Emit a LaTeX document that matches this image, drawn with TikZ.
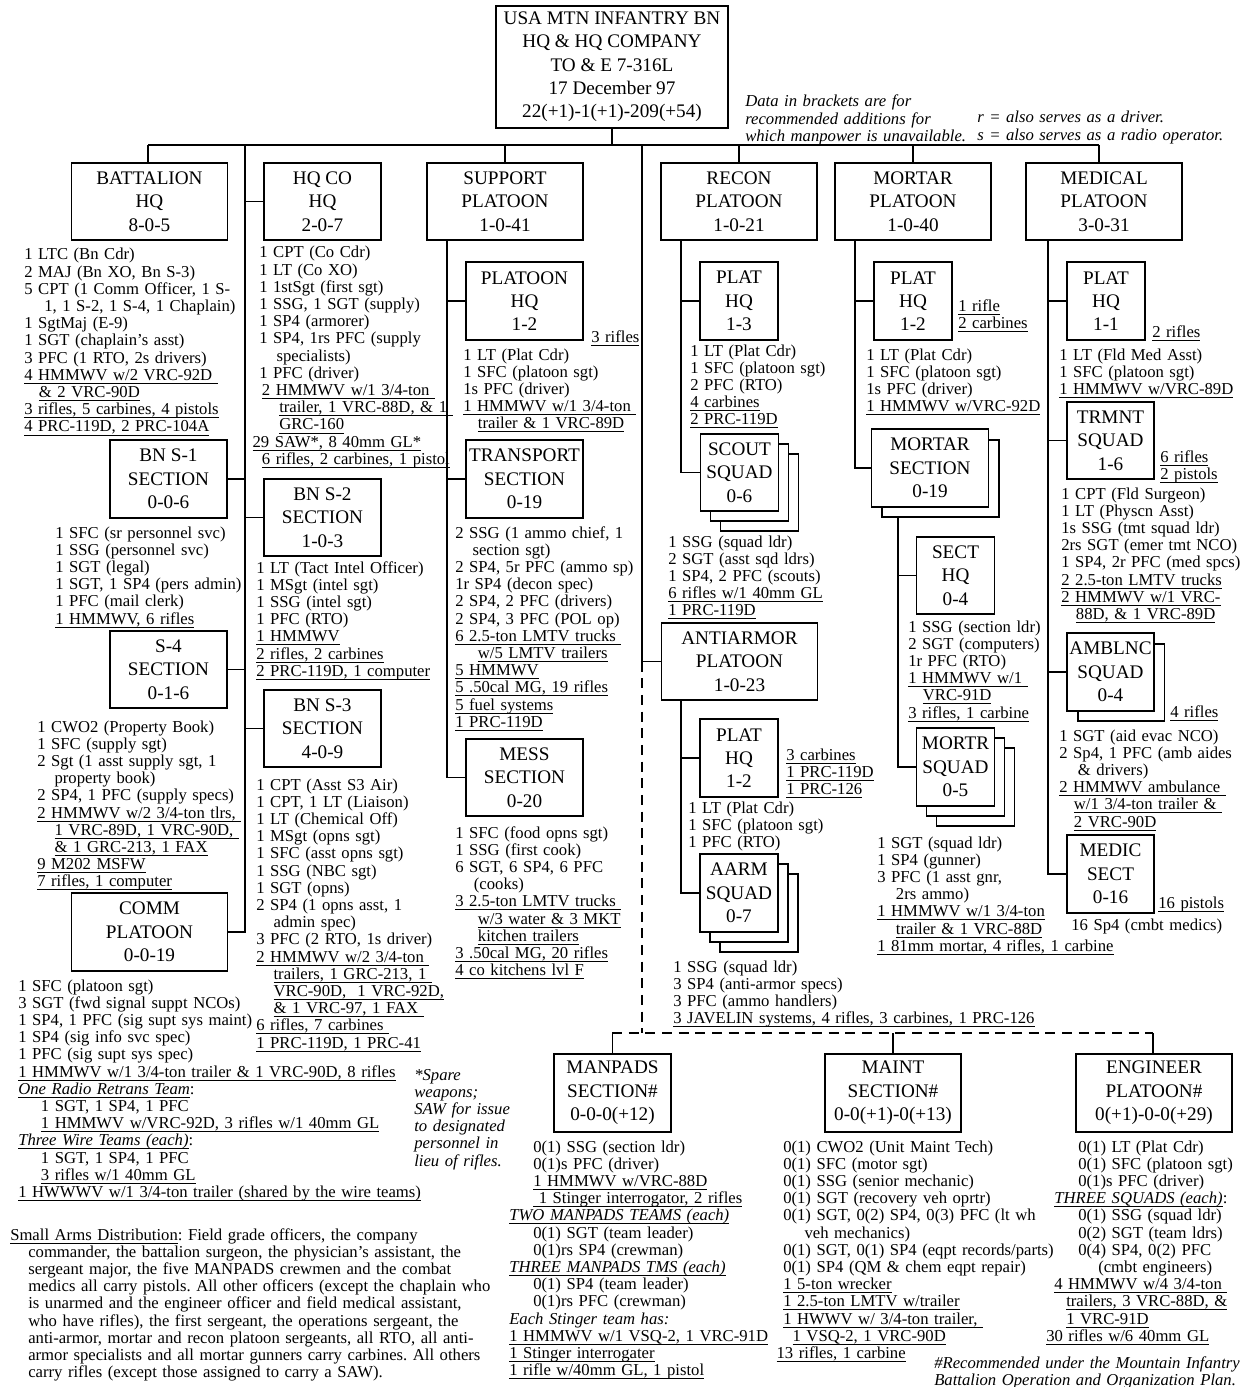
\documentclass[tikz,border=0pt]{standalone}
\usepackage{fontspec}
\setmainfont{Liberation Serif}
\usetikzlibrary{shadows}
\frenchspacing
\tikzset{unit/.style={draw,line width=1.4pt,fill=white,align=center,inner sep=1pt,minimum height=58pt,font=\fontsize{14.4}{17.5}\selectfont},
plt/.style={unit,minimum width=117pt},sect/.style={unit,minimum width=87.75pt},hq/.style={unit,minimum width=58.5pt},
stack/.style={copy shadow={shadow xshift=15pt,shadow yshift=-15pt,line width=1.4pt},copy shadow={shadow xshift=7.5pt,shadow yshift=-7.5pt,line width=1.4pt}},
pair/.style={copy shadow={shadow xshift=8pt,shadow yshift=-8pt,line width=1.4pt}},
roster/.style={anchor=base west,inner sep=0pt,text width=22cm,align=left,font=\fontsize{12.5}{12.9}\selectfont},
note/.style={roster,font=\fontsize{12.5}{12.9}\selectfont\itshape},
link/.style={line width=1.4pt}}
\newcommand\eqp[1]{\leavevmode\setbox0\hbox{#1}\rlap{\vrule height -2pt depth 2.7pt width \wd0}\box0}
\newcommand\ind{\hspace*{13pt}}
\begin{document}
\begin{tikzpicture}[x=0.75pt,y=-0.75pt]
\useasboundingbox[fill=white](0,0)rectangle(1246,1387);
\node[unit,minimum width=174pt,minimum height=91.5pt](top)at(612,67){USA MTN INFANTRY BN\\HQ \& HQ COMPANY\\TO \& E 7-316L\\17 December 97\\22(+1)-1(+1)-209(+54)};
\node[plt](bnhq)at(149.5,201.5){BATTALION\\HQ\\8-0-5};
\node[sect](hqco)at(322.5,201.5){HQ CO\\HQ\\2-0-7};
\node[plt](support)at(505,201.5){SUPPORT\\PLATOON\\1-0-41};
\node[plt](recon)at(739,201.5){RECON\\PLATOON\\1-0-21};
\node[plt](mortar)at(913,201.5){MORTAR\\PLATOON\\1-0-40};
\node[plt](medical)at(1104,201.5){MEDICAL\\PLATOON\\3-0-31};
\node[sect](bns1)at(168.5,479){BN S-1\\SECTION\\0-0-6};
\node[sect](s4)at(168.5,669.5){S-4\\SECTION\\0-1-6};
\node[sect](bns2)at(322.5,517.5){BN S-2\\SECTION\\1-0-3};
\node[sect](bns3)at(322.5,728.5){BN S-3\\SECTION\\4-0-9};
\node[plt](comm)at(149.5,932){COMM\\PLATOON\\0-0-19};
\node[sect](suphq)at(524.5,301){PLATOON\\HQ\\1-2};
\node[sect](transport)at(524.5,479){TRANSPORT\\SECTION\\0-19};
\node[sect](mess)at(524.5,777.5){MESS\\SECTION\\0-20};
\node[hq](reconhq)at(739,301){PLAT\\HQ\\1-3};
\node[hq,stack](scout)at(739.5,472.5){SCOUT\\SQUAD\\0-6};
\node[plt](anti)at(739.5,661.5){ANTIARMOR\\PLATOON\\1-0-23};
\node[hq](antihq)at(739,758){PLAT\\HQ\\1-2};
\node[hq,stack](aarm)at(739,893){AARM\\SQUAD\\0-7};
\node[hq](morthq)at(913,301){PLAT\\HQ\\1-2};
\node[sect,pair](mortsec)at(930,468){MORTAR\\SECTION\\0-19};
\node[hq](secthq)at(955.5,575.5){SECT\\HQ\\0-4};
\node[hq,stack](mortsq)at(955.5,767){MORTR\\SQUAD\\0-5};
\node[hq](medhq)at(1106,301){PLAT\\HQ\\1-1};
\node[unit,minimum width=65pt](trmnt)at(1110.5,440.5){TRMNT\\SQUAD\\1-6};
\node[unit,minimum width=65pt,pair](amb)at(1110.5,672){AMBLNC\\SQUAD\\0-4};
\node[unit,minimum width=65pt](medic)at(1110.5,874){MEDIC\\SECT\\0-16};
\node[sect](manpads)at(612.5,1093){MANPADS\\SECTION\#\\0-0-0(+12)};
\node[unit,minimum width=102pt](maint)at(893,1093){MAINT\\SECTION\#\\0-0(+1)-0(+13)};
\node[plt](engineer)at(1154,1093){ENGINEER\\PLATOON\#\\0(+1)-0-0(+29)};
\coordinate(barL)at(148,145);\coordinate(barR)at(1099,145);
\coordinate(hqline)at(245,145);\coordinate(supline)at(447,240);\coordinate(recline)at(681,240);
\coordinate(midline)at(642,145);\coordinate(antline)at(681,700);\coordinate(mortline)at(855,240);
\coordinate(sectline)at(898,518);\coordinate(medline)at(1048,240);
\coordinate(rowL)at(612,1033);\coordinate(rowR)at(1153,1033);
\draw[link](top.south)--(top.south|-barL);\draw[link](barL)--(barR);
\draw[link](barL)--(barL|-bnhq.north);\draw[link](support.north)--(support.north|-barL);
\draw[link](recon.north)--(recon.north|-barL);\draw[link](mortar.north)--(mortar.north|-barL);
\draw[link](barR)--(barR|-medical.north);
\draw[link](hqline)|-(comm.east);
\draw[link](hqco.west)--(hqco.west-|hqline);\draw[link](bns2.west)--(bns2.west-|hqline);\draw[link](bns3.west)--(bns3.west-|hqline);
\draw[link](bns1.east)--(bns1.east-|hqline);\draw[link](s4.east)--(s4.east-|hqline);
\draw[link](supline)|-(mess.west);\draw[link](suphq.west)--(suphq.west-|supline);\draw[link](transport.west)--(transport.west-|supline);
\draw[link](recline)|-(scout.west);\draw[link](reconhq.west)--(reconhq.west-|recline);
\draw[link](midline)|-(anti.west);
\draw[link,dash pattern=on 7.5pt off 5pt](midline|-anti.west)--(midline|-rowL);
\draw[link,dash pattern=on 7.5pt off 5pt](rowL)--(rowR);
\draw[link](manpads.north)--(manpads.north|-rowL);\draw[link](maint.north)--(maint.north|-rowL);\draw[link](rowR)--(rowR|-engineer.north);
\draw[link](antline)|-(aarm.west);\draw[link](antihq.west)--(antihq.west-|antline);
\draw[link](mortline)|-(mortsec.west);\draw[link](morthq.west)--(morthq.west-|mortline);
\draw[link](sectline)|-(mortsq.west);\draw[link](secthq.west)--(secthq.west-|sectline);
\draw[link](medline)|-(medic.west);\draw[link](medhq.west)--(medhq.west-|medline);
\draw[link](trmnt.west)--(trmnt.west-|medline);\draw[link](amb.west)--(amb.west-|medline);
\node[note](brackets)at(745,107){Data in brackets are for\\recommended additions for\\which manpower is unavailable.};
\node[note](keys)at(977,123){r = also serves as a driver.\\s = also serves as a radio operator.};
\node[roster](bnhqlist)at(24,260){1 LTC (Bn Cdr)\\2 MAJ (Bn XO, Bn S-3)\\5 CPT (1 Comm Officer, 1 S-\\\hspace*{15pt}1, 1 S-2, 1 S-4, 1 Chaplain)\\1 SgtMaj (E-9)\\1 SGT (chaplain's asst)\\3 PFC (1 RTO, 2s drivers)\\\eqp{4 HMMWV w/2 VRC-92D\ }\\\hspace*{11pt}\eqp{\& 2 VRC-90D}\\\eqp{3 rifles, 5 carbines, 4 pistols}\\\eqp{4 PRC-119D, 2 PRC-104A}};
\node[roster](hqcolist)at(259,258){1 CPT (Co Cdr)\\1 LT (Co XO)\\1 1stSgt (first sgt)\\1 SSG, 1 SGT (supply)\\1 SP4 (armorer)\\1 SP4, 1rs PFC (supply\\\ind specialists)\\1 PFC (driver)\\\hspace*{2pt}\eqp{2 HMMWV w/1 3/4-ton\ }\\\hspace*{15pt}\eqp{trailer, 1 VRC-88D, \& 1\ }\\\hspace*{15pt}\eqp{GRC-160}\\\hspace*{-5pt}\eqp{29 SAW*, 8 40mm GL*}\\\hspace*{2pt}\eqp{6 rifles, 2 carbines, 1 pistol}};
\node[roster](bns1list)at(55,538){1 SFC (sr personnel svc)\\1 SSG (personnel svc)\\1 SGT (legal)\\1 SGT, 1 SP4 (pers admin)\\1 PFC (mail clerk)\\\eqp{1 HMMWV, 6 rifles}};
\node[roster](bns2list)at(256,573){1 LT (Tact Intel Officer)\\1 MSgt (intel sgt)\\1 SSG (intel sgt)\\1 PFC (RTO)\\\eqp{1 HMMWV}\\\eqp{2 rifles, 2 carbines}\\\eqp{2 PRC-119D, 1 computer}};
\node[roster](s4list)at(37,732){1 CWO2 (Property Book)\\1 SFC (supply sgt)\\2 Sgt (1 asst supply sgt, 1\\\ind property book)\\2 SP4, 1 PFC (supply specs)\\\eqp{2 HMMWV w/2 3/4-ton tlrs,\ }\\\ind\eqp{1 VRC-89D, 1 VRC-90D,\ }\\\ind\eqp{\& 1 GRC-213, 1 FAX}\\\eqp{9 M202 MSFW}\\\eqp{7 rifles, 1 computer}};
\node[roster](bns3list)at(256,790){1 CPT (Asst S3 Air)\\1 CPT, 1 LT (Liaison)\\1 LT (Chemical Off)\\1 MSgt (opns sgt)\\1 SFC (asst opns sgt)\\1 SSG (NBC sgt)\\1 SGT (opns)\\2 SP4 (1 opns asst, 1\\\ind admin spec)\\3 PFC (2 RTO, 1s driver)\\\eqp{2 HMMWV w/2 3/4-ton\ }\\\ind\eqp{trailers, 1 GRC-213, 1\ }\\\ind\eqp{VRC-90D,\ \ 1 VRC-92D,}\\\ind\eqp{\& 1 VRC-97, 1 FAX\ }\\\eqp{6 rifles, 7 carbines\ }\\\eqp{1 PRC-119D, 1 PRC-41}};
\node[roster](commlist)at(18,991){1 SFC (platoon sgt)\\3 SGT (fwd signal suppt NCOs)\\1 SP4, 1 PFC (sig supt sys maint)\\1 SP4 (sig info svc spec)\\1 PFC (sig supt sys spec)\\\eqp{1 HMMWV w/1 3/4-ton trailer \& 1 VRC-90D, 8 rifles}\\\eqp{\textit{One Radio Retrans Team}}:\\\hspace*{17pt}1 SGT, 1 SP4, 1 PFC\\\hspace*{17pt}\eqp{1 HMMWV w/VRC-92D, 3 rifles w/1 40mm GL}\\\eqp{\textit{Three Wire Teams (each)}}:\\\hspace*{17pt}1 SGT, 1 SP4, 1 PFC\\\hspace*{17pt}\eqp{3 rifles w/1 40mm GL}\\\eqp{1 HWWWV w/1 3/4-ton trailer (shared by the wire teams)}};
\node[note](spare)at(414,1080){*Spare\\weapons;\\SAW for issue\\to designated\\personnel in\\lieu of rifles.};
\node[roster](arms)at(10,1240){\eqp{Small Arms Distribution}: Field grade officers, the company\\\hspace*{13.5pt}commander, the battalion surgeon, the physician's assistant, the\\\hspace*{13.5pt}sergeant major, the five MANPADS crewmen and the combat\\\hspace*{13.5pt}medics all carry pistols. All other officers (except the chaplain who\\\hspace*{13.5pt}is unarmed and the engineer officer and field medical assistant,\\\hspace*{13.5pt}who have rifles), the first sergeant, the operations sergeant, the\\\hspace*{13.5pt}anti-armor, mortar and recon platoon sergeants, all RTO, all anti-\\\hspace*{13.5pt}armor specialists and all mortar gunners carry carbines. All others\\\hspace*{13.5pt}carry rifles (except those assigned to carry a SAW).};
\node[roster](suphqlist)at(463,360){1 LT (Plat Cdr)\\1 SFC (platoon sgt)\\1s PFC (driver)\\\eqp{1 HMMWV w/1 3/4-ton\ }\\\hspace*{11pt}\eqp{trailer \& 1 VRC-89D}};
\node[roster](suphqarms)at(591,342){\eqp{3 rifles}};
\node[roster](translist)at(455,538){2 SSG (1 ammo chief, 1\\\ind section sgt)\\2 SP4, 5r PFC (ammo sp)\\1r SP4 (decon spec)\\2 SP4, 2 PFC (drivers)\\2 SP4, 3 PFC (POL op)\\\eqp{6 2.5-ton LMTV trucks\ }\\\hspace*{17pt}\eqp{w/5 LMTV trailers}\\\eqp{5 HMMWV}\\\eqp{5 .50cal MG, 19 rifles}\\\eqp{5 fuel systems}\\\eqp{1 PRC-119D}};
\node[roster](messlist)at(455,838){1 SFC (food opns sgt)\\1 SSG (first cook)\\6 SGT, 6 SP4, 6 PFC\\\hspace*{14pt}(cooks)\\\eqp{3 2.5-ton LMTV trucks\ }\\\hspace*{17pt}\eqp{w/3 water \& 3 MKT}\\\hspace*{17pt}\eqp{kitchen trailers}\\\eqp{3 .50cal MG, 20 rifles}\\\eqp{4 co kitchens lvl F}};
\node[roster](reconhqlist)at(690,356){1 LT (Plat Cdr)\\1 SFC (platoon sgt)\\2 PFC (RTO)\\\eqp{4 carbines}\\\eqp{2 PRC-119D}};
\node[roster](scoutlist)at(668,547){1 SSG (squad ldr)\\2 SGT (asst sqd ldrs)\\1 SP4, 2 PFC (scouts)\\\eqp{6 rifles w/1 40mm GL}\\\eqp{1 PRC-119D}};
\node[roster](antihqarms)at(786,760){\eqp{3 carbines}\\\eqp{1 PRC-119D}\\\eqp{1 PRC-126}};
\node[roster](antihqlist)at(688,813){1 LT (Plat Cdr)\\1 SFC (platoon sgt)\\1 PFC (RTO)};
\node[roster](aarmlist)at(673,972){1 SSG (squad ldr)\\3 SP4 (anti-armor specs)\\3 PFC (ammo handlers)\\\eqp{3 JAVELIN systems, 4 rifles, 3 carbines, 1 PRC-126}};
\node[roster](morthqarms)at(958,311){\eqp{1 rifle}\\\eqp{2 carbines}};
\node[roster](morthqlist)at(866,360){1 LT (Plat Cdr)\\1 SFC (platoon sgt)\\1s PFC (driver)\\\eqp{1 HMMWV w/VRC-92D}};
\node[roster](secthqlist)at(908,632){1 SSG (section ldr)\\2 SGT (computers)\\1r PFC (RTO)\\\eqp{1 HMMWV w/1\ }\\\hspace*{11pt}\eqp{VRC-91D}\\\eqp{3 rifles, 1 carbine}};
\node[roster](mortsqlist)at(877,848){1 SGT (squad ldr)\\1 SP4 (gunner)\\3 PFC (1 asst gnr,\\\hspace*{14pt}2rs ammo)\\\eqp{1 HMMWV w/1 3/4-ton}\\\hspace*{14pt}\eqp{trailer \& 1 VRC-88D}\\\eqp{1 81mm mortar, 4 rifles, 1 carbine}};
\node[roster](medhqarms)at(1152,337){\eqp{2 rifles}};
\node[roster](medhqlist)at(1059,360){1 LT (Fld Med Asst)\\1 SFC (platoon sgt)\\\eqp{1 HMMWV w/VRC-89D}};
\node[roster](trmntarms)at(1160,462){\eqp{6 rifles}\\\eqp{2 pistols}};
\node[roster](trmntlist)at(1061,499){1 CPT (Fld Surgeon)\\1 LT (Physcn Asst)\\1s SSG (tmt squad ldr)\\2rs SGT (emer tmt NCO)\\1 SP4, 2r PFC (med spcs)\\\eqp{2 2.5-ton LMTV trucks}\\\eqp{2 HMMWV w/1 VRC-}\\\hspace*{11pt}\eqp{88D, \& 1 VRC-89D}};
\node[roster](ambarms)at(1170,717){\eqp{4 rifles}};
\node[roster](amblist)at(1059,741){1 SGT (aid evac NCO)\\2 Sp4, 1 PFC (amb aides\\\hspace*{14pt}\& drivers)\\\eqp{2 HMMWV ambulance\ }\\\hspace*{11pt}\eqp{w/1 3/4-ton trailer \&\ }\\\hspace*{11pt}\eqp{2 VRC-90D}};
\node[roster](medicarms)at(1158,908){\eqp{16 pistols}};
\node[roster](mediclist)at(1071,930){16 Sp4 (cmbt medics)};
\node[roster](manpadslist)at(509,1152){\hspace*{18pt}0(1) SSG (section ldr)\\\hspace*{18pt}0(1)s PFC (driver)\\\hspace*{18pt}\eqp{1 HMMWV w/VRC-88D}\\\hspace*{18pt}\eqp{\ 1 Stinger interrogator, 2 rifles}\\\eqp{\textit{TWO MANPADS TEAMS (each)}}\\\hspace*{18pt}0(1) SGT (team leader)\\\hspace*{18pt}0(1)rs SP4 (crewman)\\\eqp{\textit{THREE MANPADS TMS (each)}}\\\hspace*{18pt}0(1) SP4 (team leader)\\\hspace*{18pt}0(1)rs PFC (crewman)\\\textit{Each Stinger team has:}\\\eqp{1 HMMWV w/1 VSQ-2, 1 VRC-91D}\\\eqp{1 Stinger interrogater}\\\eqp{1 rifle w/40mm GL, 1 pistol}};
\node[roster](maintlist)at(783,1152){0(1) CWO2 (Unit Maint Tech)\\0(1) SFC (motor sgt)\\0(1) SSG (senior mechanic)\\0(1) SGT (recovery veh oprtr)\\0(1) SGT, 0(2) SP4, 0(3) PFC (lt wh\\\hspace*{16pt}veh mechanics)\\0(1) SGT, 0(1) SP4 (eqpt records/parts)\\0(1) SP4 (QM \& chem eqpt repair)\\\eqp{1 5-ton wrecker}\\\eqp{1 2.5-ton LMTV w/trailer}\\\eqp{1 HWWV w/ 3/4-ton trailer,\ }\\\hspace*{7pt}\eqp{1 VSQ-2, 1 VRC-90D}\\\hspace*{-5pt}\eqp{13 rifles, 1 carbine}};
\node[roster](engineerlist)at(1054,1152){\hspace*{18pt}0(1) LT (Plat Cdr)\\\hspace*{18pt}0(1) SFC (platoon sgt)\\\hspace*{18pt}0(1)s PFC (driver)\\\eqp{\textit{THREE SQUADS (each)}}:\\\hspace*{18pt}0(1) SSG (squad ldr)\\\hspace*{18pt}0(2) SGT (team ldrs)\\\hspace*{18pt}0(4) SP4, 0(2) PFC\\\hspace*{33pt}(cmbt engineers)\\\eqp{4 HMMWV w/4 3/4-ton\ }\\\hspace*{9pt}\eqp{trailers, 3 VRC-88D, \&}\\\hspace*{9pt}\eqp{1 VRC-91D}\\\hspace*{-6pt}\eqp{30 rifles w/6 40mm GL}};
\node[note](footnote)at(934,1368){\#Recommended under the Mountain Infantry\\Battalion Operation and Organization Plan.};
\end{tikzpicture}
\end{document}
